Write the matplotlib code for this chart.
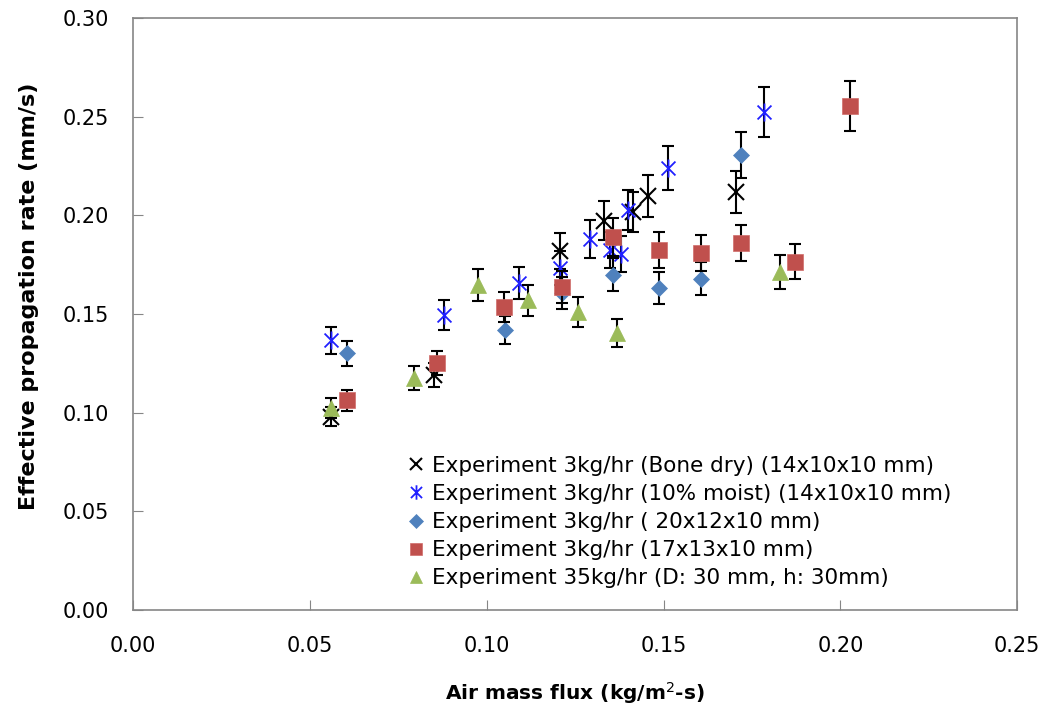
import numpy as np
import matplotlib.pyplot as plt
from matplotlib.path import Path

# air mass flux (kg/m2-s) and effective propagation rate (mm/s) per experiment
x_dry = [0.0561, 0.0850, 0.1207, 0.1332, 0.1414, 0.1457, 0.1704]
y_dry = [0.0980, 0.1190, 0.1820, 0.1972, 0.2018, 0.2099, 0.2120]

x_moist = [0.0561, 0.0879, 0.1091, 0.1207, 0.1293, 0.1349, 0.1380, 0.1400, 0.1514, 0.1783]
y_moist = [0.1368, 0.1495, 0.1657, 0.1733, 0.1880, 0.1825, 0.1804, 0.2027, 0.2240, 0.2524]

x_20x12 = [0.0606, 0.1052, 0.1213, 0.1358, 0.1488, 0.1607, 0.1718]
y_20x12 = [0.1300, 0.1419, 0.1607, 0.1700, 0.1632, 0.1678, 0.2306]

x_17x13 = [0.0606, 0.0859, 0.1049, 0.1213, 0.1358, 0.1488, 0.1607, 0.1718, 0.1871, 0.2027]
y_17x13 = [0.1064, 0.1252, 0.1536, 0.1637, 0.1890, 0.1825, 0.1810, 0.1860, 0.1764, 0.2554]

x_35 = [0.0561, 0.0794, 0.0975, 0.1117, 0.1259, 0.1369, 0.1828]
y_35 = [0.1024, 0.1176, 0.1647, 0.1570, 0.1510, 0.1404, 0.1713]

# error bars are +/- 5% of each value
err_frac = 0.05

labels = ['Experiment 3kg/hr (Bone dry) (14x10x10 mm)',
          'Experiment 3kg/hr (10% moist) (14x10x10 mm)',
          'Experiment 3kg/hr ( 20x12x10 mm)',
          'Experiment 3kg/hr (17x13x10 mm)',
          'Experiment 35kg/hr (D: 30 mm, h: 30mm)']

plt.rcParams['font.family'] = ['DejaVu Sans']

# asterisk: an x with a vertical stroke through it
asterisk = Path([(-1, -1), (1, 1), (-1, 1), (1, -1), (0, -1.3), (0, 1.3)],
                [Path.MOVETO, Path.LINETO, Path.MOVETO, Path.LINETO, Path.MOVETO, Path.LINETO])

fig = plt.figure(figsize=(10.39, 7.06), dpi=100)
ax = fig.add_axes([0.128, 0.136, 0.851, 0.8385])

series = [
    (x_dry, y_dry, dict(marker='x', color='black', ms=11, mew=1.5, mfc='none')),
    (x_moist, y_moist, dict(marker=asterisk, color='#2020FF', ms=13, mew=1.3, mfc='none')),
    (x_20x12, y_20x12, dict(marker='D', color='#4F81BD', ms=8.5, mew=0.5, mec='#4F81BD')),
    (x_17x13, y_17x13, dict(marker='s', color='#C0504D', ms=11.5, mew=0.5, mec='#D06C69')),
    (x_35, y_35, dict(marker='^', color='#9BBB59', ms=11.5, mew=0.5, mec='#9BBB59')),
]

for (xs, ys, style), lab in zip(series, labels):
    ys = np.array(ys)
    ax.errorbar(xs, ys, yerr=ys * err_frac, fmt='none', ecolor='black',
                elinewidth=1.5, capsize=4, capthick=1.5)
    ax.plot(xs, ys, linestyle='none', label=lab, **style)

ax.set_xlim(0, 0.25)
ax.set_ylim(0, 0.30)
ax.set_xticks(np.arange(0, 0.2501, 0.05))
ax.set_yticks(np.arange(0, 0.3001, 0.05))
ax.xaxis.set_major_formatter(plt.FormatStrFormatter('%.2f'))
ax.yaxis.set_major_formatter(plt.FormatStrFormatter('%.2f'))
ax.tick_params(direction='in', length=7, color='#868686', labelsize=15)
ax.tick_params(axis='x', pad=19)
ax.tick_params(axis='y', pad=17)
for sp in ax.spines.values():
    sp.set_color('#868686')
    sp.set_linewidth(1.2)

ax.set_xlabel('Air mass flux (kg/m$^2$-s)', fontsize=14.5, fontweight='bold', labelpad=17)
ax.set_ylabel('Effective propagation rate (mm/s)', fontsize=16, fontweight='bold')
ax.yaxis.set_label_coords(-0.106, 0.53)

ax.legend(loc='lower right', bbox_to_anchor=(0.95, 0.0), frameon=False, fontsize=15.5,
          handlelength=0.8, handletextpad=0.35, labelspacing=0.38, markerscale=0.8,
          borderaxespad=0.6)

fig.savefig('out.png', dpi=100)
